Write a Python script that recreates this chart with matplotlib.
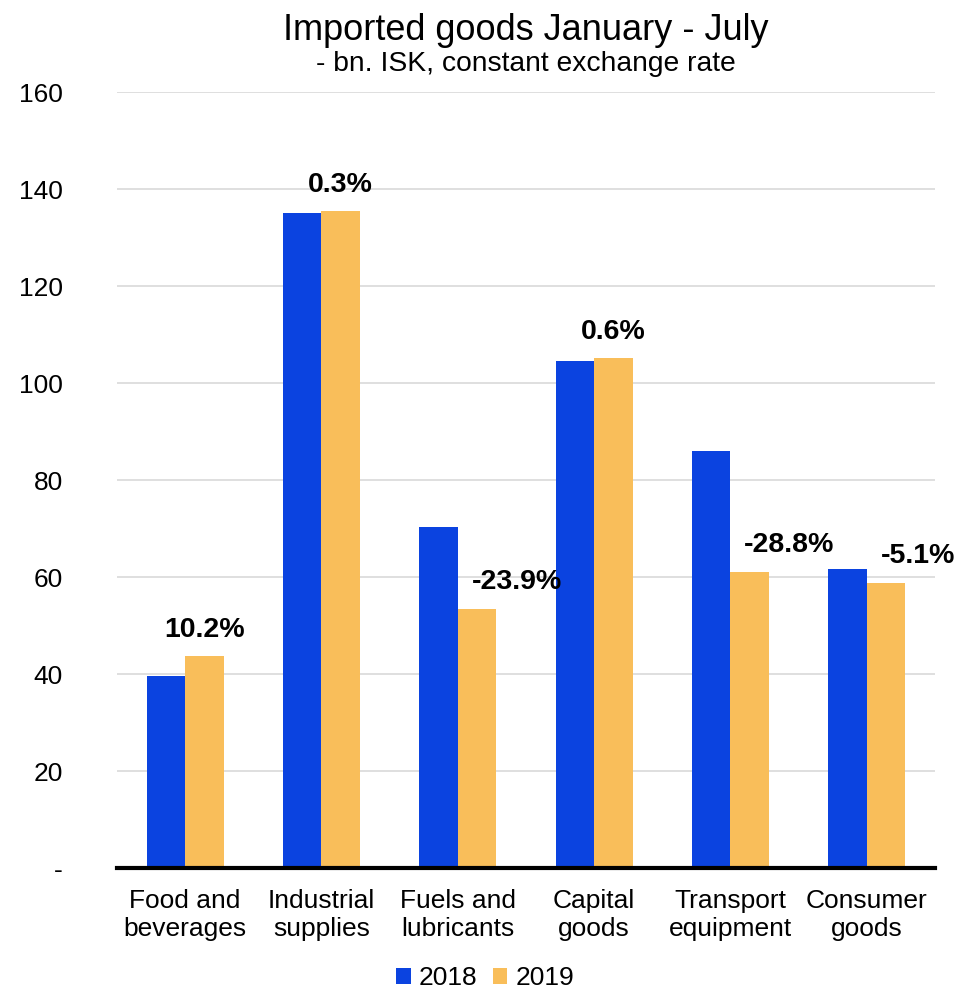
import numpy as np
import matplotlib.pyplot as plt

plt.rcParams['font.family'] = ['Liberation Sans', 'DejaVu Sans']

# data (bn. ISK)
categories = ["Food and\nbeverages", "Industrial\nsupplies", "Fuels and\nlubricants",
              "Capital\ngoods", "Transport\nequipment", "Consumer\ngoods"]
values_2018 = [39.6, 135.0, 70.3, 104.5, 86.0, 61.7]
values_2019 = [43.7, 135.5, 53.4, 105.2, 61.0, 58.8]
changes = ["10.2%", "0.3%", "-23.9%", "0.6%", "-28.8%", "-5.1%"]
yticks = [0, 20, 40, 60, 80, 100, 120, 140, 160]
ytick_labels = ["-", "20", "40", "60", "80", "100", "120", "140", "160"]

blue = "#0B43E0"
orange = "#F9BE5A"

fig = plt.figure(figsize=(9.78, 9.92), dpi=100)
ax = fig.add_axes([0.1196, 0.125, 0.8364, 0.782])

x = np.arange(len(categories))
w = 0.283
ax.bar(x - w / 2, values_2018, w, color=blue, label="2018", zorder=3)
ax.bar(x + w / 2, values_2019, w, color=orange, label="2019", zorder=3)

# percent change labels above the 2019 bars
for i, (v, lab) in enumerate(zip(values_2019, changes)):
    if lab.startswith("-"):
        ax.annotate(lab, (i + 0.10, v), xytext=(0, 19.5), textcoords="offset points",
                    ha="left", va="center", fontsize=20.5, fontweight="bold", zorder=4)
    else:
        ax.annotate(lab, (i + w / 2, v), xytext=(0, 19), textcoords="offset points",
                    ha="center", va="center", fontsize=20.5, fontweight="bold", zorder=4)

ax.set_xlim(-0.5, len(categories) - 0.5)
ax.set_ylim(0, 160)
ax.set_yticks(yticks)
ax.set_yticklabels(ytick_labels)
ax.set_xticks(x)
ax.set_xticklabels(categories, linespacing=1.22)
ax.tick_params(axis="y", length=0, pad=39, labelsize=19)
ax.tick_params(axis="x", length=0, pad=15, labelsize=19)
ax.grid(axis="y", color="#d9d9d9", linewidth=1.2, zorder=0)

for s in ["top", "right", "left"]:
    ax.spines[s].set_visible(False)
ax.spines["bottom"].set_linewidth(3)
ax.spines["bottom"].set_zorder(5)

fig.text(0.538, 0.969, "Imported goods January - July", ha="center", va="center", fontsize=26)
fig.text(0.538, 0.935, "- bn. ISK, constant exchange rate", ha="center", va="center", fontsize=20.3)

fig.legend(loc="center", bbox_to_anchor=(0.496, 0.014), ncol=2, frameon=False,
           fontsize=19, handlelength=0.55, handleheight=0.55, handletextpad=0.3,
           columnspacing=0.6)

fig.savefig("out.png", dpi=100)
